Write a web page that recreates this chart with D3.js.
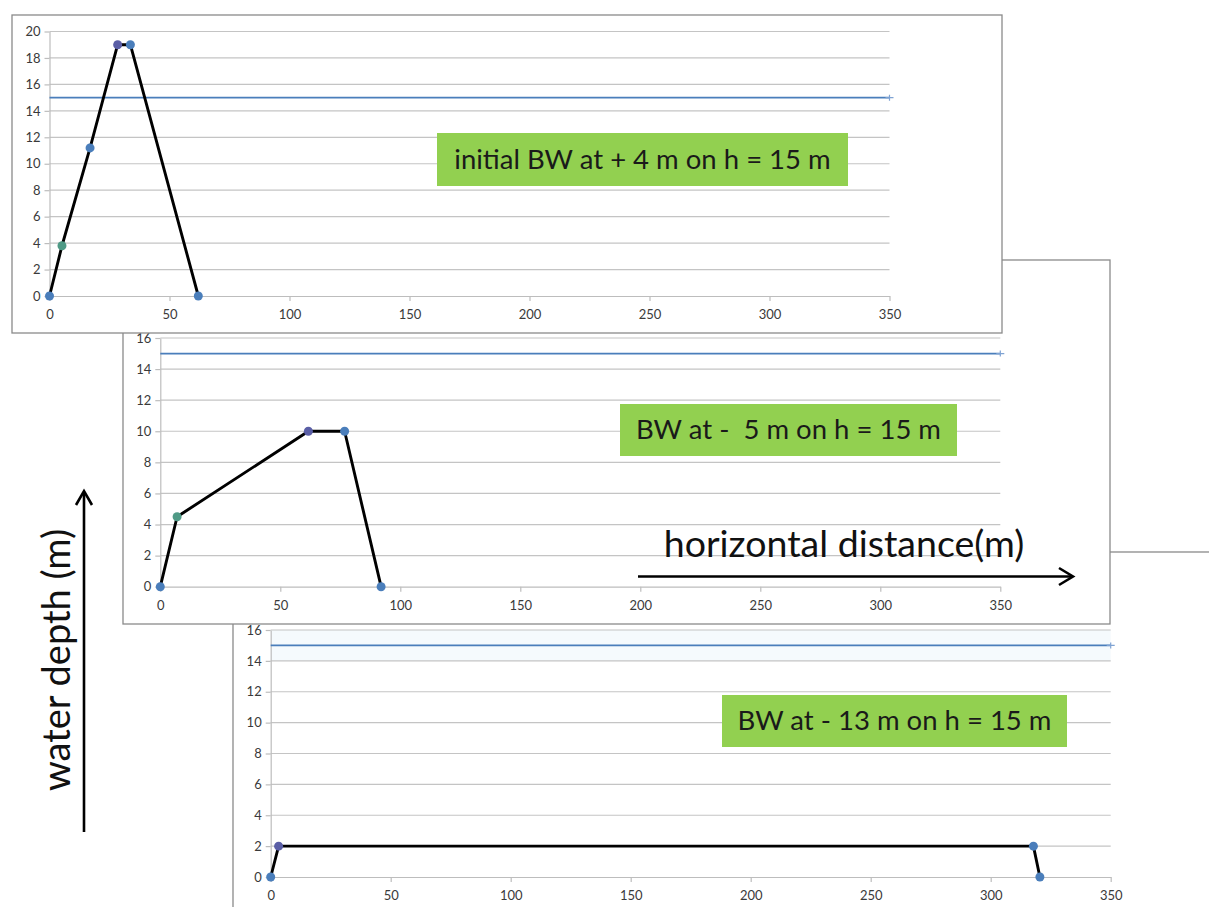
<!DOCTYPE html>
<html><head><meta charset="utf-8">
<script src="https://cdn.jsdelivr.net/npm/d3@7"></script>
<style>
body{margin:0;background:#fff;}
svg{display:block;}
.tick text{font-family:Lato,"Open Sans",sans-serif;font-size:13px;fill:#3a3a3a;}
</style></head>
<body>
<script>
// ---- data ----
const xTicks = [0, 50, 100, 150, 200, 250, 300, 350];
const yTicks1 = [0, 2, 4, 6, 8, 10, 12, 14, 16, 18, 20];
const yTicks2 = [0, 2, 4, 6, 8, 10, 12, 14, 16];
const yTicks3 = [0, 2, 4, 6, 8, 10, 12, 14, 16];
const waterLevel = 15;
const labels = ["initial BW at + 4 m on h = 15 m", "BW at -  5 m on h = 15 m", "BW at - 13 m on h = 15 m"];
const p1X = [0, 5.2, 16.9, 28.4, 33.7, 62];
const p1Y = [0, 3.8, 11.2, 19, 19, 0];
const p2X = [0, 7.0, 61.7, 76.8, 92];
const p2Y = [0, 4.5, 10, 10, 0];
const p3X = [0, 3.3, 317.8, 320.5];
const p3Y = [0, 2, 2, 0];
const xLabel = "horizontal distance(m)";
const yLabel = "water depth (m)";

// ---- colours ----
const cBlue = "#4a7ebb", cTeal = "#4f9a86", cPurple = "#5a5ea6";
const p1C = [cBlue, cTeal, cBlue, cPurple, cBlue, cBlue];
const p2C = [cBlue, cTeal, cPurple, cBlue, cBlue];
const p3C = [cBlue, cPurple, cBlue, cBlue];

const W = 1209, H = 907;
const svg = d3.select("body").append("svg").attr("width", W).attr("height", H);

const panels = [
  {frame:[233,552,1240,940], px:[270.7,1110.7], py:[877,630], yMax:16, yt:yTicks3, xs:p3X, ys:p3Y, cs:p3C, lab:labels[2], box:[722,695,1067,747], band:true},
  {frame:[123,260,1110,624], px:[160.3,1000.3], py:[586.7,338], yMax:16, yt:yTicks2, xs:p2X, ys:p2Y, cs:p2C, lab:labels[1], box:[620,404,957,456]},
  {frame:[12,15,1002,333], px:[49.5,889.5], py:[296,31.5], yMax:20, yt:yTicks1, xs:p1X, ys:p1Y, cs:p1C, lab:labels[0], box:[437,133,848,186]}
];

panels.forEach(p => {
  const g = svg.append("g");
  const [fx0, fy0, fx1, fy1] = p.frame;
  g.append("rect").attr("x", fx0).attr("y", fy0).attr("width", fx1 - fx0).attr("height", fy1 - fy0)
    .attr("fill", "#fff").attr("stroke", "#8a8a8a").attr("stroke-width", 1.3);
  const x = d3.scaleLinear().domain([0, 350]).range(p.px);
  const y = d3.scaleLinear().domain([0, p.yMax]).range(p.py);

  if (p.band) {
    g.append("rect").attr("x", x(0)).attr("y", y(16)).attr("width", x(350) - x(0)).attr("height", y(14) - y(16))
      .attr("fill", "#f5fafd");
  }
  // gridlines
  g.selectAll(".grid").data(p.yt.filter(v => v > 0)).enter().append("line")
    .attr("x1", x(0)).attr("x2", x(350)).attr("y1", d => y(d)).attr("y2", d => y(d))
    .attr("stroke", "#c4c4c4").attr("stroke-width", 1.2);

  const ax = g.append("g").attr("transform", `translate(0,${y(0)})`)
    .call(d3.axisBottom(x).tickValues(xTicks).tickSize(5).tickSizeOuter(0).tickPadding(9));
  const ay = g.append("g").attr("transform", `translate(${x(0)},0)`)
    .call(d3.axisLeft(y).tickValues(p.yt).tickSize(5).tickSizeOuter(0).tickPadding(4));
  [ax, ay].forEach(a => {
    a.selectAll("path.domain").attr("stroke", "#bdbdbd").attr("stroke-width", 1.2);
    a.selectAll(".tick line").attr("stroke", "#bdbdbd").attr("stroke-width", 1.2);
  });

  // water level
  g.append("line").attr("x1", x(0)).attr("x2", x(350)).attr("y1", y(waterLevel)).attr("y2", y(waterLevel))
    .attr("stroke", cBlue).attr("stroke-width", 1.7);
  g.append("path").attr("d", `M${x(350)-4},${y(waterLevel)}h8M${x(350)},${y(waterLevel)-3}v6`)
    .attr("stroke", "#7fa3d3").attr("stroke-width", 1.2);

  // label box
  const [bx0, by0, bx1, by1] = p.box;
  g.append("rect").attr("x", bx0).attr("y", by0).attr("width", bx1 - bx0).attr("height", by1 - by0).attr("fill", "#92d050");
  g.append("text").attr("x", (bx0 + bx1) / 2).attr("y", (by0 + by1) / 2 + 9).attr("text-anchor", "middle")
    .attr("font-family", "Lato, 'Open Sans', sans-serif").attr("font-size", 27.5).attr("fill", "#1a1a1a")
    .attr("xml:space", "preserve").style("white-space", "pre").text(p.lab);

  // profile
  const pts = p.xs.map((v, i) => [v, p.ys[i]]);
  g.append("path").datum(pts).attr("d", d3.line().x(d => x(d[0])).y(d => y(d[1])))
    .attr("fill", "none").attr("stroke", "#000").attr("stroke-width", 2.9).attr("stroke-linejoin", "round");
  g.selectAll(".pt").data(pts).enter().append("circle")
    .attr("cx", d => x(d[0])).attr("cy", d => y(d[1])).attr("r", 4.5)
    .attr("fill", (d, i) => p.cs[i]);
});

// axis arrows and titles
const ann = svg.append("g");
ann.append("text").attr("x", 844).attr("y", 557).attr("text-anchor", "middle")
  .attr("font-family", "Lato, 'Open Sans', sans-serif").attr("font-size", 37.5).attr("fill", "#111").text(xLabel);
ann.append("line").attr("x1", 638).attr("x2", 1072).attr("y1", 576.5).attr("y2", 576.5).attr("stroke", "#000").attr("stroke-width", 2.6);
ann.append("path").attr("d", "M1059,568 L1073,576.5 L1059,585").attr("fill", "none").attr("stroke", "#000").attr("stroke-width", 2.6);

ann.append("text").attr("transform", "translate(70,660) rotate(-90)").attr("text-anchor", "middle")
  .attr("font-family", "Lato, 'Open Sans', sans-serif").attr("font-size", 38).attr("fill", "#111").text(yLabel);
ann.append("line").attr("x1", 84).attr("x2", 84).attr("y1", 492).attr("y2", 832).attr("stroke", "#000").attr("stroke-width", 2.6);
ann.append("path").attr("d", "M76,505 L84,491 L92,505").attr("fill", "none").attr("stroke", "#000").attr("stroke-width", 2.6);
</script>
</body></html>
